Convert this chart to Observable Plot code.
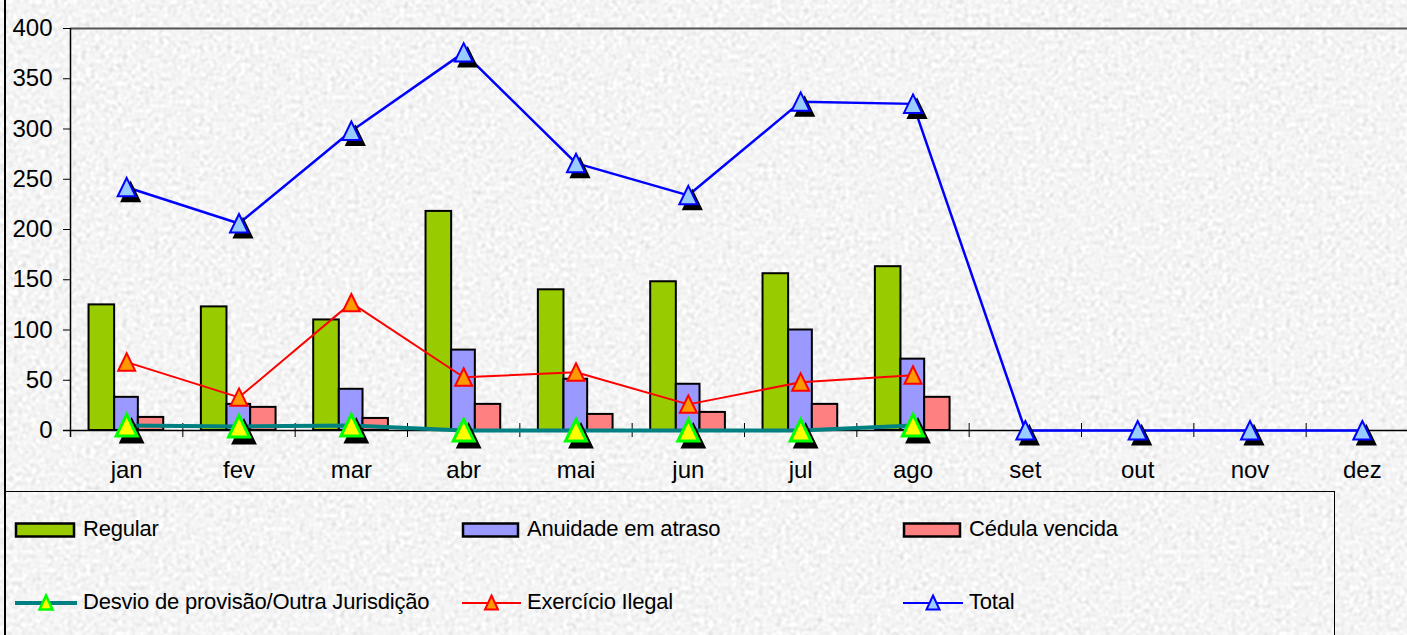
<!DOCTYPE html>
<html>
<head>
<meta charset="utf-8">
<script src="https://cdn.jsdelivr.net/npm/d3@7"></script>
<script src="https://cdn.jsdelivr.net/npm/@observablehq/plot@0.6"></script>
<style>
html, body { margin: 0; padding: 0; width: 1407px; height: 635px; overflow: hidden; background: #e8e8e8; font-family: "Liberation Sans", Arial, sans-serif; }
#bg { position: absolute; left: 0; top: 0; }
#chart { position: absolute; left: 0; top: 0; }
#leftline { position: absolute; left: 4px; top: 0; width: 2px; height: 635px; background: #000; }
#legend { position: absolute; left: 5px; top: 491px; width: 1330px; height: 170px; border: 1px solid #000; box-sizing: border-box; }
.sw { position: absolute; overflow: visible; }
.lt { position: absolute; font-size: 22px; line-height: 26px; color: #000; white-space: nowrap; letter-spacing: -0.2px; }
</style>
</head>
<body>
<svg id="bg" width="1407" height="635" shape-rendering="crispEdges">
  <filter id="noise" x="0" y="0" width="100%" height="100%">
    <feTurbulence type="fractalNoise" baseFrequency="0.22" numOctaves="1" seed="7" result="t"/>
    <feColorMatrix in="t" type="matrix" values="0.33 0.33 0.33 0 0  0.33 0.33 0.33 0 0  0.33 0.33 0.33 0 0  0 0 0 0 1" result="g"/>
    <feComponentTransfer in="g">
      <feFuncR type="linear" slope="0.7" intercept="0.56"/>
      <feFuncG type="linear" slope="0.7" intercept="0.56"/>
      <feFuncB type="linear" slope="0.7" intercept="0.56"/>
    </feComponentTransfer>
  </filter>
  <rect width="1407" height="635" filter="url(#noise)"/>
</svg>
<div id="leftline"></div>
<div id="chart"></div>
<div id="legend"></div>
<script>
// ---- data ----
const months = ["jan", "fev", "mar", "abr", "mai", "jun", "jul", "ago", "set", "out", "nov", "dez"];
const regular = [125, 123, 110, 218, 140, 148, 156, 163];
const anuidade = [33, 26, 41, 80, 51, 46, 100, 71];
const cedula = [13, 23, 12, 26, 16, 18, 26, 33];
const desvio = [5, 4, 5, 0, 0, 0, 0, 5];
const exercicio = [68, 33, 127, 53, 58, 26, 48, 55];
const total = [242, 206, 298, 376, 266, 234, 327, 325, 0, 0, 0, 0];
const yTicks = [0, 50, 100, 150, 200, 250, 300, 350, 400];
const seriesNames = ["Regular", "Anuidade em atraso", "Cédula vencida", "Desvio de provisão/Outra Jurisdição", "Exercício Ilegal", "Total"];

// ---- tables ----
const rows = months.map((m, i) => ({
  i, month: m,
  regular: regular[i], anuidade: anuidade[i], cedula: cedula[i],
  desvio: desvio[i], exercicio: exercicio[i], total: total[i]
}));
const partial = rows.filter(d => d.regular !== undefined);

// ---- styles ----
const C = {
  regular: "#99CC00", anuidade: "#9999FF", cedula: "#FF8080",
  desvioLine: "#008080", desvioFill: "#FFFF00", desvioStroke: "#00FF00",
  exLine: "#FF0000", exFill: "#FF9900",
  totLine: "#0000FF", totFill: "#99CCFF"
};

const tri = {
  draw(ctx, size) {
    const r = Math.sqrt(size / Math.PI);
    ctx.moveTo(0, -r * 1.05);
    ctx.lineTo(r, r);
    ctx.lineTo(-r, r);
    ctx.closePath();
  }
};

const barStyle = {stroke: "#000", strokeWidth: 2};

const chart = Plot.plot({
  width: 1418,
  height: 491,
  marginLeft: 70,
  marginRight: 0,
  marginTop: 28,
  marginBottom: 61,
  x: {type: "linear", domain: [-0.5, 11.5], axis: null},
  y: {domain: [0, 400], axis: null},
  style: {background: "transparent", fontFamily: "'Liberation Sans', Arial, sans-serif", overflow: "visible", maxWidth: "none", color: "#000"},
  marks: [
    Plot.ruleY([400], {stroke: "#555", strokeWidth: 2}),
    Plot.rectY(partial, {x1: d => d.i - 0.335, x2: d => d.i - 0.107, y: "regular", fill: C.regular, ...barStyle}),
    Plot.rectY(partial, {x1: d => d.i - 0.107, x2: d => d.i + 0.104, y: "anuidade", fill: C.anuidade, ...barStyle}),
    Plot.rectY(partial, {x1: d => d.i + 0.104, x2: d => d.i + 0.33, y: "cedula", fill: C.cedula, ...barStyle}),
    Plot.ruleY([0], {stroke: "#000", strokeWidth: 1.5, insetLeft: -7}),
    Plot.ruleX([-0.5], {y1: 400, y2: 0, insetBottom: -7, stroke: "#000", strokeWidth: 1.5}),
    Plot.ruleX(d3.range(0.5, 11.5, 1), {y1: 0, y2: 0, insetTop: -7, insetBottom: -7, stroke: "#000", strokeWidth: 1}),
    Plot.axisY({ticks: yTicks, tickSize: 7, tickPadding: 11, fontSize: 24, label: null, stroke: "#000", fill: "#000"}),
    Plot.axisX({ticks: d3.range(12), tickFormat: i => months[i], tickSize: 0, tickPadding: 30, fontSize: 24, label: null, fill: "#000"}),
    // Desvio
    Plot.line(partial, {x: "i", y: "desvio", stroke: C.desvioLine, strokeWidth: 4}),
    Plot.dot(partial, {x: "i", y: "desvio", symbol: tri, r: 10.5, fill: "#000", stroke: "#000", strokeWidth: 3, dx: 5, dy: 6}),
    Plot.dot(partial, {x: "i", y: "desvio", symbol: tri, r: 10.5, fill: C.desvioFill, stroke: C.desvioStroke, strokeWidth: 3}),
    // Exercício
    Plot.line(partial, {x: "i", y: "exercicio", stroke: C.exLine, strokeWidth: 2}),
    Plot.dot(partial, {x: "i", y: "exercicio", symbol: tri, r: 8.5, fill: C.exFill, stroke: C.exLine, strokeWidth: 2}),
    // Total
    Plot.line(rows, {x: "i", y: "total", stroke: C.totLine, strokeWidth: 2.5}),
    Plot.dot(rows, {x: "i", y: "total", symbol: tri, r: 9, fill: "#000", stroke: "#000", strokeWidth: 2, dx: 4, dy: 5}),
    Plot.dot(rows, {x: "i", y: "total", symbol: tri, r: 9, fill: C.totFill, stroke: C.totLine, strokeWidth: 2})
  ]
});
document.getElementById("chart").appendChild(chart);

// ---- legend ----
const legendLayout = [
  {kind: "bar", fill: C.regular, sx: 15, cy: 530, tx: 83},
  {kind: "bar", fill: C.anuidade, sx: 462, cy: 530, tx: 527},
  {kind: "bar", fill: C.cedula, sx: 903, cy: 530, tx: 969},
  {kind: "line", line: C.desvioLine, lw: 4, mfill: C.desvioFill, mstroke: C.desvioStroke, msw: 2.5, sx: 15, cy: 603, tx: 83},
  {kind: "line", line: C.exLine, lw: 2, mfill: C.exFill, mstroke: C.exLine, msw: 2, sx: 462, cy: 603, tx: 527},
  {kind: "line", line: C.totLine, lw: 2, mfill: C.totFill, mstroke: C.totLine, msw: 2, sx: 903, cy: 603, tx: 969}
];
legendLayout.forEach((it, k) => {
  const w = it.tx - it.sx - 4;
  const svg = d3.create("svg").attr("class", "sw").attr("width", w).attr("height", 24)
    .style("left", it.sx + "px").style("top", (it.cy - 12) + "px");
  if (it.kind === "bar") {
    svg.append("rect").attr("x", 1).attr("y", 5.5).attr("width", w - 6).attr("height", 13)
      .attr("fill", it.fill).attr("stroke", "#000").attr("stroke-width", 2.5);
  } else {
    svg.append("line").attr("x1", 0).attr("x2", w - 2).attr("y1", 12).attr("y2", 12)
      .attr("stroke", it.line).attr("stroke-width", it.lw);
    const c = (w - 2) / 2, r = 6.5;
    svg.append("path").attr("d", `M${c},${12 - r - 1}L${c + r},${12 + r}L${c - r},${12 + r}Z`)
      .attr("fill", it.mfill).attr("stroke", it.mstroke).attr("stroke-width", it.msw);
  }
  document.body.appendChild(svg.node());
  const t = document.createElement("div");
  t.className = "lt";
  t.textContent = seriesNames[k];
  t.style.left = it.tx + "px";
  t.style.top = (it.cy - 14) + "px";
  document.body.appendChild(t);
});
</script>
</body>
</html>
